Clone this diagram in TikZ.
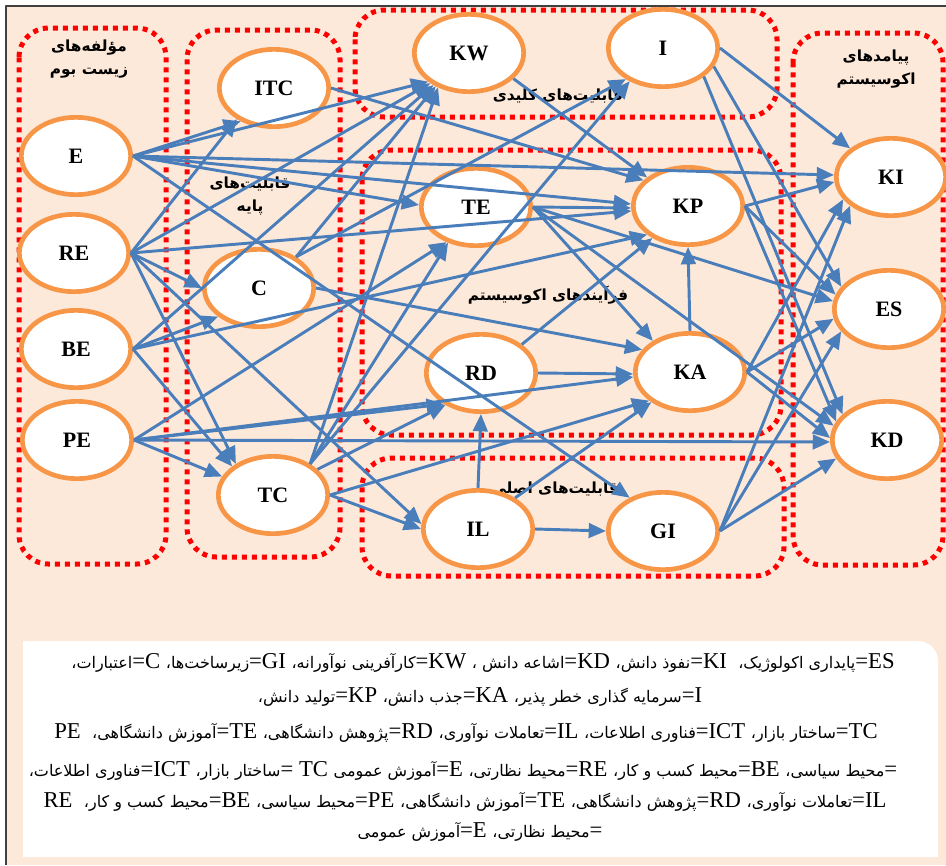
\documentclass[tikz,border=0pt]{standalone}
\usepackage{fontspec}
\setmainfont{Liberation Serif}
\newfontfamily\fa[Script=Arabic]{DejaVu Sans}
\TeXXeTstate=1
\usetikzlibrary{shapes.geometric,arrows.meta,positioning}
\definecolor{peach}{RGB}{253,233,217}
\definecolor{ellorange}{RGB}{247,150,70}
\definecolor{linkblue}{RGB}{74,126,187}
\definecolor{framegray}{RGB}{64,64,64}
\tikzset{
  ell/.style={ellipse,draw=ellorange,line width=3.5pt,fill=white,minimum width=82pt,minimum height=58pt,inner sep=0pt,font=\bfseries\fontsize{16.5}{19}\selectfont},
  grp/.style={draw=red,line width=3.75pt,dash pattern=on 3.75pt off 3.75pt,rounded corners=22pt},
  link/.style={draw=linkblue,line width=2.2pt,-{Triangle[length=13pt,width=11pt]}},
  grplabel/.style={font=\fa\bfseries\fontsize{11.5}{17}\selectfont,align=center,inner sep=0pt},
  legline/.style={inner sep=0pt,font=\fontsize{17}{19}\selectfont}
}
\newcommand\fatext[1]{{\fa\fontsize{12}{14}\selectfont #1}}
\newcommand\legentry[2]{#1\kern0pt=\fatext{#2}}

\begin{document}
\begin{tikzpicture}[x=0.75pt,y=-0.75pt,line join=round]
\useasboundingbox (0,0) rectangle (946,865);
\fill[white] (0,0) rectangle (946,865);
\fill[peach] (6,6) rectangle (946,865);
\draw[framegray,line width=1.2pt] (946,6) -- (6,6) -- (6,865);
% legend box
\fill[white] (23,641) -- (918,641) arc[start angle=90,end angle=0,radius=15pt] -- (938,857) -- (23,857) -- cycle;
% groups
\draw[grp] (19,28) rectangle (166,564);
\draw[grp] (187,30) rectangle (340,557);
\draw[grp] (355,10) rectangle (777,117);
\draw[grp] (362,150) rectangle (781,435);
\draw[grp] (362,458) rectangle (784,576);
\draw[grp] (793,33) rectangle (943,565);
\node[grplabel] (lblEco) at (89,59) {مؤلفه‌های\\\beginR زیست بوم\endR};
\node[grplabel] (lblBase) at (250,196) {قابلیت‌های\\پایه};
\node[grplabel] (lblKey) at (558,96) {\beginR قابلیت‌های کلیدی\endR};
\node[grplabel] (lblProc) at (548,295) {\beginR فرآیندهای اکوسیستم\endR};
\node[grplabel] (lblMain) at (555,489) {\beginR قابلیت‌های اصلی\endR};
\node[grplabel] (lblOut) at (876,69) {پیامدهای\\اکوسیستم};
% nodes
\node[ell] (E) at (76,156) {E};
\node[ell] (RE) at (74,253) {RE};
\node[ell] (BE) at (76,349) {BE};
\node[ell] (PE) at (77,440) {PE};
\node[ell] (ITC) at (274,88) {ITC};
\node[ell] (C) at (259,288) {C};
\node[ell] (TC) at (273,495) {TC};
\node[ell] (KW) at (469,53) {KW};
\node[ell] (I) at (663,48) {I};
\node[ell] (TE) at (476,207) {TE};
\node[ell] (KP) at (688,206) {KP};
\node[ell] (RD) at (481,373) {RD};
\node[ell] (KA) at (690,372) {KA};
\node[ell] (IL) at (478,529) {IL};
\node[ell] (GI) at (663,531) {GI};
\node[ell] (KI) at (891,177) {KI};
\node[ell] (ES) at (889,309) {ES};
\node[ell] (KD) at (887,440) {KD};
% links
\foreach \s/\t in {E.east/ITC.225,E.east/KW.215,E.east/TE.178,E.east/KP.178,E.east/KI.178,E.east/GI.135,
  RE.east/ITC.220,RE.east/KW.218,RE.east/C.180,RE.east/TC.140,RE.east/KP.185,RE.east/IL.175,
  BE.east/C.215,BE.east/KW.222,BE.east/TC.145,BE.east/KP.215,
  PE.east/TC.160,PE.east/RD.220,PE.east/KA.185,PE.east/KD.182,PE.east/TE.230,
  ITC.east/KP.150,
  C.40/KW.225,C.40/I.220,C.east/KA.155,
  TC.40/KW.228,TC.40/TE.232,TC.40/I.225,TC.30/RD.222,TC.east/IL.180,TC.east/KA.215}
  \draw[link] (\s) -- (\t);
\foreach \s/\t in {I.east/KI.145,I.340/ES.155,I.325/KD.150,
  KW.330/KP.145,
  TE.east/KP.182,TE.east/KA.140,TE.east/ES.172,TE.east/KD.165,
  KP.east/KI.185,KP.east/ES.165,KP.east/KD.160,
  KA.north/KP.south,KA.east/KI.205,KA.east/ES.190,KA.east/KD.178,
  RD.35/KP.222,RD.east/KA.182,IL.north/RD.south,IL.east/GI.180,IL.40/KA.218,
  GI.east/KI.215,GI.east/ES.205,GI.east/KD.200}
  \draw[link] (\s) -- (\t);
% legend
\node[legline] (leg1) at (483,663) {\beginR\legentry{ES}{پایداری اکولوژیک،}\ \ \legentry{KI}{نفوذ دانش،} \legentry{KD}{اشاعه دانش ،} \legentry{KW}{کارآفرینی نوآورانه،} \legentry{GI}{زیرساخت‌ها،} \legentry{C}{اعتبارات،}\endR};
\node[legline] (leg2) at (480,697) {\beginR\legentry{I}{سرمایه گذاری خطر پذیر،} \legentry{KA}{جذب دانش،} \legentry{KP}{تولید دانش،}\endR};
\node[legline] (leg3) at (466,733) {\beginR\legentry{TC}{ساختار بازار،} \legentry{ICT}{فناوری اطلاعات،} \legentry{IL}{تعاملات نوآوری،} \legentry{RD}{پژوهش دانشگاهی،} \legentry{TE}{آموزش دانشگاهی،}\ \ PE\endR};
\node[legline] (leg4) at (463,771) {\beginR=\fatext{محیط سیاسی،} \legentry{BE}{محیط کسب و کار،} \legentry{RE}{محیط نظارتی،} \legentry{E}{آموزش عمومی} TC =\fatext{ساختار بازار،} \legentry{ICT}{فناوری اطلاعات،}\endR};
\node[legline] (leg5) at (465,802) {\beginR\legentry{IL}{تعاملات نوآوری،} \legentry{RD}{پژوهش دانشگاهی،} \legentry{TE}{آموزش دانشگاهی،} \legentry{PE}{محیط سیاسی،} \legentry{BE}{محیط کسب و کار،}\ \ RE\endR};
\node[legline] (leg6) at (480,832) {\beginR=\fatext{محیط نظارتی،} \legentry{E}{آموزش عمومی}\endR};
\end{tikzpicture}
\end{document}
